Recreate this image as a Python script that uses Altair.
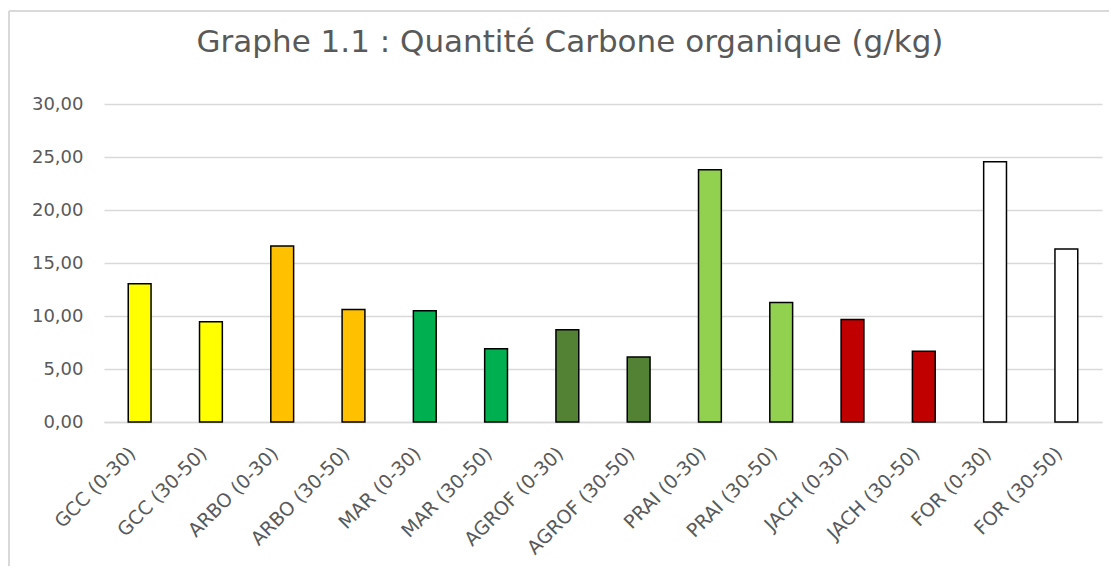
import altair as alt
import pandas as pd

categories = ["GCC (0-30)", "GCC (30-50)", "ARBO (0-30)", "ARBO (30-50)",
              "MAR (0-30)", "MAR (30-50)", "AGROF (0-30)", "AGROF (30-50)",
              "PRAI (0-30)", "PRAI (30-50)", "JACH (0-30)", "JACH (30-50)",
              "FOR (0-30)", "FOR (30-50)"]
values = [13.04, 9.45, 16.60, 10.62, 10.49, 6.90, 8.70, 6.14,
          23.79, 11.28, 9.68, 6.68, 24.55, 16.32]
colors = ["#FFFF00", "#FFFF00", "#FFC000", "#FFC000", "#00B050", "#00B050",
          "#548235", "#548235", "#92D050", "#92D050", "#C00000", "#C00000",
          "#FFFFFF", "#FFFFFF"]
title_text = "Graphe 1.1 : Quantité Carbone organique (g/kg)"

df = pd.DataFrame({"cat": categories, "val": values, "col": colors})

FONT = "DejaVu Sans"
GREY = "#595959"

bars = alt.Chart(df).mark_bar(stroke="black", strokeWidth=1.5).encode(
    x=alt.X("cat:N", sort=categories, title=None,
            scale=alt.Scale(paddingInner=0.68, paddingOuter=0.34),
            axis=alt.Axis(labelAngle=-45, labelAlign="right", labelBaseline="bottom",
                          labelPadding=35, ticks=False, domainColor="#D9D9D9",
                          domainWidth=1.5, labelFontSize=19, labelColor=GREY,
                          labelFont=FONT)),
    y=alt.Y("val:Q", title=None,
            scale=alt.Scale(domain=[0, 30], nice=False),
            axis=alt.Axis(values=[0, 5, 10, 15, 20, 25, 30], format=".2f",
                          labelExpr="replace(datum.label, '.', ',')",
                          ticks=False, domain=False, gridColor="#D9D9D9",
                          gridWidth=1.5, labelFontSize=18, labelColor=GREY,
                          labelFont=FONT, labelPadding=21)),
    color=alt.Color("col:N", scale=None, legend=None),
)

frame_df = pd.DataFrame({"a": [0]})
top_line = alt.Chart(frame_df).mark_rule(color="#D9D9D9", strokeWidth=2).encode(
    x=alt.value(-95), x2=alt.value(1010), y=alt.value(-93))
left_line = alt.Chart(frame_df).mark_rule(color="#D9D9D9", strokeWidth=2).encode(
    x=alt.value(-95), y=alt.value(-93), y2=alt.value(462))
title = alt.Chart(frame_df).mark_text(
    font=FONT, fontSize=31, color=GREY, align="center", baseline="alphabetic"
).encode(x=alt.value(466), y=alt.value(-52), text=alt.value(title_text))

chart = alt.layer(bars, top_line, left_line, title).properties(
    width=998, height=318,
    autosize=alt.AutoSizeParams(type="none"),
    padding={"left": 96, "top": 96, "right": 7, "bottom": 144},
).configure_view(stroke=None)

chart.save("out.html", embed_options={"renderer": "svg", "actions": False})
